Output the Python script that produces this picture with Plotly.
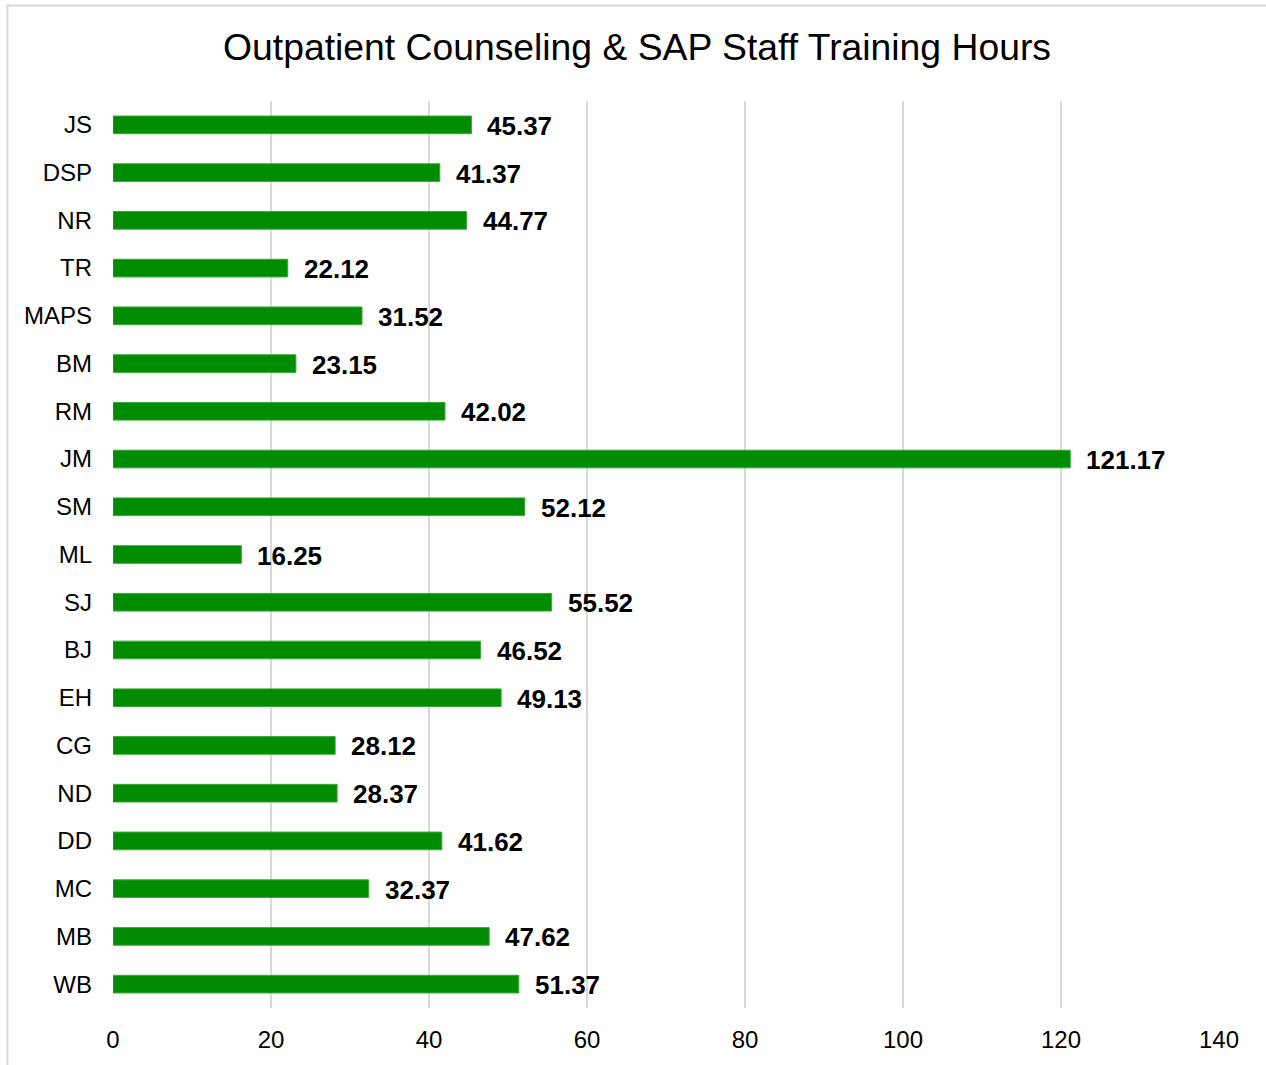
import plotly.graph_objects as go

# Staff initials, listed top to bottom
staff = ["JS", "DSP", "NR", "TR", "MAPS", "BM", "RM", "JM", "SM", "ML",
         "SJ", "BJ", "EH", "CG", "ND", "DD", "MC", "MB", "WB"]
# Training hours per staff member
hours = [45.37, 41.37, 44.77, 22.12, 31.52, 23.15, 42.02, 121.17, 52.12, 16.25,
         55.52, 46.52, 49.13, 28.12, 28.37, 41.62, 32.37, 47.62, 51.37]
# Horizontal axis ticks
x_ticks = [0, 20, 40, 60, 80, 100, 120, 140]

FONT = "Arial, 'Liberation Sans', sans-serif"

fig = go.Figure()
fig.add_trace(go.Bar(
    x=hours,
    y=staff,
    orientation="h",
    width=0.37,
    marker=dict(color="#008c00", line=dict(color="#3aa83a", width=1)),
    hoverinfo="x+y",
))

# Value labels just to the right of each bar
for name, val in zip(staff, hours):
    fig.add_annotation(
        x=val, y=name, xref="x", yref="y",
        text=f"<b>{val:.2f}</b>",
        showarrow=False, xanchor="left", yanchor="middle",
        xshift=14, yshift=-1,
        font=dict(family=FONT, size=26, color="#000000"),
    )

# Light frame around the whole chart
fig.add_shape(
    type="rect", xref="paper", yref="paper",
    x0=-0.0955, x1=1.06, y0=-0.08, y1=1.1054,
    line=dict(color="#d9d9d9", width=2),
    fillcolor="rgba(0,0,0,0)", layer="below",
)

fig.update_layout(
    width=1266,
    height=1065,
    margin=dict(l=113, r=47, t=101, b=53),
    paper_bgcolor="#ffffff",
    plot_bgcolor="#ffffff",
    showlegend=False,
    title=dict(
        text="Outpatient Counseling &amp; SAP Staff Training Hours",
        x=637 / 1266, xref="container", xanchor="center",
        y=1 - 47 / 1065, yref="container", yanchor="middle",
        font=dict(family=FONT, size=37.3, color="#000000"),
    ),
    font=dict(family=FONT, color="#000000"),
    xaxis=dict(
        range=[0, 140],
        tickvals=x_ticks,
        showgrid=True,
        gridcolor="#d9d9d9",
        gridwidth=2,
        zeroline=False,
        showline=False,
        ticks="",
        ticklabelstandoff=15,
        tickfont=dict(family=FONT, size=24, color="#000000"),
    ),
    yaxis=dict(
        categoryorder="array",
        categoryarray=staff,
        autorange="reversed",
        showgrid=False,
        zeroline=False,
        showline=False,
        ticks="",
        ticklabelstandoff=20,
        tickfont=dict(family=FONT, size=24, color="#000000"),
    ),
)

fig.write_html("out.html")
